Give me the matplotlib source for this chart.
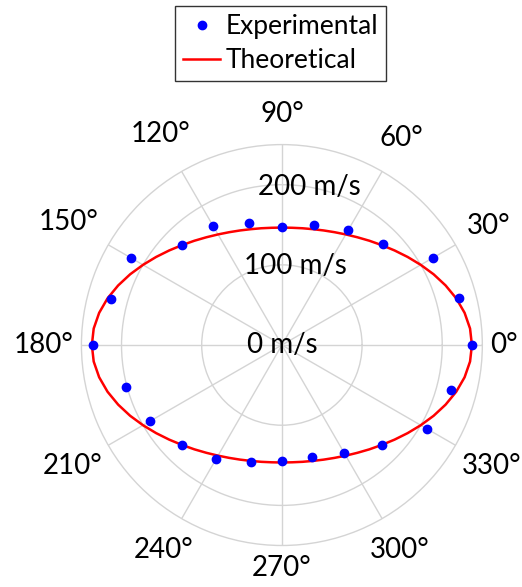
import numpy as np
import matplotlib
matplotlib.use('Agg')
import matplotlib.pyplot as plt

plt.rcParams['font.family'] = ['Lato', 'DejaVu Sans']
FONT_SIZE = 20

# Measured wave speed, every 15 degrees
exp_angles = [0, 15, 30, 45, 60, 75, 90, 105, 120, 135, 150, 165,
              180, 195, 210, 225, 240, 255, 270, 285, 300, 315, 330, 345]
exp_speed = [237, 229, 218, 178, 165, 155, 147, 158, 171, 176, 217, 220,
             235, 201, 190, 177, 164, 151, 145, 144, 155, 176, 209, 219]

# Theoretical speed, every 5 degrees
theory_angles = list(range(0, 365, 5))
theory_speed = [237.0, 235.6, 231.4, 225.1, 217.3, 208.8, 200.0, 191.5, 183.5, 176.2,
                169.8, 164.1, 159.3, 155.3, 152.1, 149.6, 147.9, 146.8, 146.5,
                146.8, 147.9, 149.6, 152.1, 155.3, 159.3, 164.1, 169.8, 176.2,
                183.5, 191.5, 200.0, 208.8, 217.3, 225.1, 231.4, 235.6, 237.0,
                235.6, 231.4, 225.1, 217.3, 208.8, 200.0, 191.5, 183.5, 176.2,
                169.8, 164.1, 159.3, 155.3, 152.1, 149.6, 147.9, 146.8, 146.5,
                146.8, 147.9, 149.6, 152.1, 155.3, 159.3, 164.1, 169.8, 176.2,
                183.5, 191.5, 200.0, 208.8, 217.3, 225.1, 231.4, 235.6, 237.0]

r_ticks = [0, 100, 200]
r_tick_labels = ['0 m/s', '100 m/s', '200 m/s']
r_max = 250
r_label_angle = 80
theta_ticks = list(range(0, 360, 30))
theta_tick_labels = [f'{a}°' for a in theta_ticks]

fig = plt.figure(figsize=(5.22, 5.87), dpi=100)
ax = fig.add_axes([0.156, 0.0707, 0.768, 0.683], projection='polar')

line_th, = ax.plot(np.deg2rad(theory_angles), theory_speed, color='#ff0000',
                   lw=1.8, label='Theoretical', zorder=3)
pts_exp, = ax.plot(np.deg2rad(exp_angles), exp_speed, 'o', color='#0000ff',
                   ms=6, label='Experimental', zorder=4)

ax.set_ylim(0, r_max)
ax.set_rticks(r_ticks)
ax.set_yticklabels([])
ax.set_thetagrids(theta_ticks, labels=[''] * len(theta_ticks))
ax.tick_params(length=0)
ax.grid(color='#d4d4d4', lw=1)
ax.spines['polar'].set_color('#d4d4d4')
ax.spines['polar'].set_linewidth(1)

# radial labels along the 80 degree direction
for r, lab in zip(r_ticks, r_tick_labels):
    ax.text(np.deg2rad(r_label_angle), r, lab, ha='center', va='center',
            fontsize=FONT_SIZE, zorder=5)

# angle labels just outside the outer ring, pushed out by their own size
fig.canvas.draw()
renderer = fig.canvas.get_renderer()
for ang, lab in zip(theta_ticks, theta_tick_labels):
    t = ax.annotate(lab, xy=(np.deg2rad(ang), r_max), xycoords='data',
                    xytext=(0, 0), textcoords='offset pixels',
                    ha='center', va='center', fontsize=FONT_SIZE,
                    annotation_clip=False)
    bb = t.get_window_extent(renderer)
    c, s = np.cos(np.deg2rad(ang)), np.sin(np.deg2rad(ang))
    extra = 10 if s > 0 else 2
    d = 8 + abs(c) * bb.width / 2 + abs(s) * (bb.height / 2 + extra)
    t.set_position((d * c, d * s))

leg = fig.legend([pts_exp, line_th], ['Experimental', 'Theoretical'],
                 loc='upper center', bbox_to_anchor=(0.538, 0.99),
                 fontsize=19, fancybox=False, handlelength=1.4,
                 handletextpad=0.2, borderpad=0.3, labelspacing=0.35,
                 borderaxespad=0, framealpha=1)
leg.get_frame().set_edgecolor('#333333')
leg.get_frame().set_linewidth(1)

fig.savefig('out.png', dpi=100)
